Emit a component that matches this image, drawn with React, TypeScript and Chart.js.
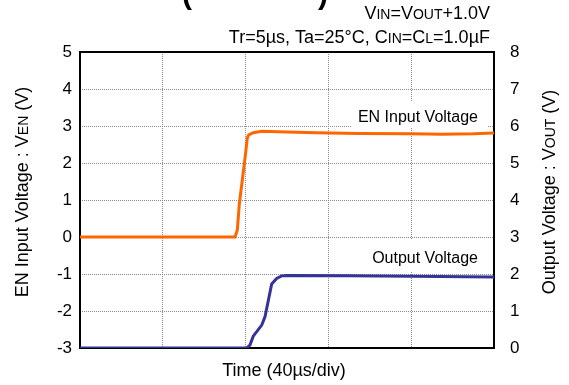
import React, { useEffect, useRef } from 'react';
import { Chart, registerables } from 'chart.js';

Chart.register(...registerables);

// ---- data (time in µs, 40 µs/div) ----
const enTime = [0, 74.9, 76.0, 77.0, 78.6, 80.0, 80.8, 81.5, 83.7, 87.8, 100, 114.3, 135, 160, 175, 190, 200];
const enVolt = [0, 0, 0.19, 0.91, 1.63, 2.26, 2.67, 2.76, 2.82, 2.86, 2.84, 2.82, 2.8, 2.79, 2.78, 2.79, 2.81];
const outTime = [0, 80.5, 82.1, 83.7, 87.8, 89.4, 92.6, 95.0, 97.4, 100, 130, 160, 200];
const outVolt = [0, 0, 0.08, 0.32, 0.62, 0.85, 1.73, 1.88, 1.95, 1.96, 1.95, 1.94, 1.92];

const timeRange = [0, 200];
const timeStep = 40;
const enRange = [-3, 5];
const outRange = [0, 8];

const seriesNames = ['EN Input Voltage', 'Output Voltage'];
const xTitle = 'Time (40µs/div)';

const FONT = "'Liberation Sans', Arial, sans-serif";

type Run = [string, boolean]; // text, small caps

function runsWidth(ctx: CanvasRenderingContext2D, runs: Run[], size: number) {
  let w = 0;
  for (const [t, small] of runs) {
    ctx.font = `${small ? Math.round(size * 0.76) : size}px ${FONT}`;
    w += ctx.measureText(t).width;
  }
  return w;
}

function drawRuns(ctx: CanvasRenderingContext2D, runs: Run[], x: number, y: number, size: number, align: 'left' | 'right' | 'center') {
  const w = runsWidth(ctx, runs, size);
  let cx = align === 'left' ? x : align === 'right' ? x - w : x - w / 2;
  ctx.textAlign = 'left';
  ctx.textBaseline = 'alphabetic';
  for (const [t, small] of runs) {
    ctx.font = `${small ? Math.round(size * 0.76) : size}px ${FONT}`;
    ctx.fillText(t, cx, y);
    cx += ctx.measureText(t).width;
  }
}

const overlay = {
  id: 'overlay',
  beforeDatasetsDraw(chart: any) {
    const { ctx, chartArea: a } = chart;
    ctx.save();
    // label backgrounds
    ctx.fillStyle = '#fff';
    ctx.fillRect(a.right - 142, a.top + 49, 136, 27);
    ctx.fillRect(a.right - 130, a.top + 188, 122, 32);
    // frame
    ctx.strokeStyle = '#000';
    ctx.lineWidth = 2;
    ctx.strokeRect(a.left, a.top, a.right - a.left, a.bottom - a.top);
    ctx.restore();
  },
  afterDraw(chart: any) {
    const { ctx, chartArea: a } = chart;
    ctx.save();
    ctx.fillStyle = '#000';
    // series labels
    ctx.font = `16px ${FONT}`;
    ctx.textAlign = 'right';
    ctx.textBaseline = 'alphabetic';
    ctx.fillText(seriesNames[0], a.right - 16, a.top + 70);
    ctx.fillText(seriesNames[1], a.right - 16, a.top + 211);
    // conditions
    drawRuns(ctx, [['V', false], ['IN', true], ['=V', false], ['OUT', true], ['+1.0V', false]], a.right - 4, 19, 18, 'right');
    drawRuns(ctx, [['Tr=5µs, Ta=25°C, C', false], ['IN', true], ['=C', false], ['L', true], ['=1.0µF', false]], a.right - 4, 43, 18, 'right');
    // x title
    ctx.font = `18px ${FONT}`;
    ctx.textAlign = 'center';
    ctx.fillText(xTitle, (a.left + a.right) / 2 - 3, 376);
    // y titles
    const cy = (a.top + a.bottom) / 2 - 8;
    ctx.save();
    ctx.translate(28, cy);
    ctx.rotate(-Math.PI / 2);
    drawRuns(ctx, [['EN Input Voltage : V', false], ['EN', true], [' (V)', false]], 0, 0, 18, 'center');
    ctx.restore();
    ctx.save();
    ctx.translate(555, cy);
    ctx.rotate(-Math.PI / 2);
    drawRuns(ctx, [['Output Voltage : V', false], ['OUT', true], [' (V)', false]], 0, 0, 18, 'center');
    ctx.restore();
    // cut-off figure title (only the bottoms of the brackets are in view)
    ctx.font = `bold 30px ${FONT}`;
    ctx.textAlign = 'left';
    ctx.fillText('(', 182, 4);
    ctx.fillText(')', 318, 4);
    ctx.restore();
  },
};

export default function App() {
  const ref = useRef<HTMLCanvasElement>(null);
  useEffect(() => {
    if (!ref.current) return;
    const grid = { color: '#8a8a8a', lineWidth: 1, drawTicks: false };
    const dotted = { display: false, dash: [1, 1] };
    const chart = new Chart(ref.current, {
      type: 'line',
      data: {
        datasets: [
          {
            label: seriesNames[0],
            data: enTime.map((t, i) => ({ x: t, y: enVolt[i] })),
            borderColor: '#ff6600',
            borderWidth: 3,
            pointRadius: 0,
            tension: 0,
            yAxisID: 'y',
            xAxisID: 'x',
          },
          {
            label: seriesNames[1],
            data: outTime.map((t, i) => ({ x: t, y: outVolt[i] })),
            borderColor: '#333399',
            borderWidth: 3,
            pointRadius: 0,
            tension: 0,
            yAxisID: 'y1',
            xAxisID: 'x',
          },
        ],
      },
      plugins: [overlay],
      options: {
        responsive: false,
        animation: false,
        devicePixelRatio: 1,
        layout: { padding: 0 },
        plugins: { legend: { display: false }, tooltip: { enabled: false }, title: { display: false } },
        scales: {
          x: {
            type: 'linear',
            position: 'bottom',
            min: timeRange[0],
            max: timeRange[1],
            ticks: { stepSize: timeStep, display: false },
            grid,
            border: dotted,
            afterFit: (s: any) => { s.height = 37; },
          },
          xTop: {
            type: 'linear',
            position: 'top',
            display: true,
            ticks: { display: false },
            grid: { display: false },
            border: { display: false },
            afterFit: (s: any) => { s.height = 52; },
          },
          y: {
            type: 'linear',
            position: 'left',
            min: enRange[0],
            max: enRange[1],
            ticks: { stepSize: 1, color: '#000', padding: 8, font: { family: FONT, size: 17 } },
            grid,
            border: dotted,
            afterFit: (s: any) => { s.width = 80; },
          },
          y1: {
            type: 'linear',
            position: 'right',
            min: outRange[0],
            max: outRange[1],
            ticks: { stepSize: 1, color: '#000', padding: 8, font: { family: FONT, size: 17 } },
            grid: { display: false },
            border: { display: false },
            afterFit: (s: any) => { s.width = 75; },
          },
        },
      },
    } as any);
    return () => chart.destroy();
  }, []);
  return (
    <div style={{ position: 'absolute', left: 0, top: 0, width: 569, height: 385, background: '#fff' }}>
      <canvas ref={ref} width={569} height={385} style={{ display: 'block' }} />
    </div>
  );
}
